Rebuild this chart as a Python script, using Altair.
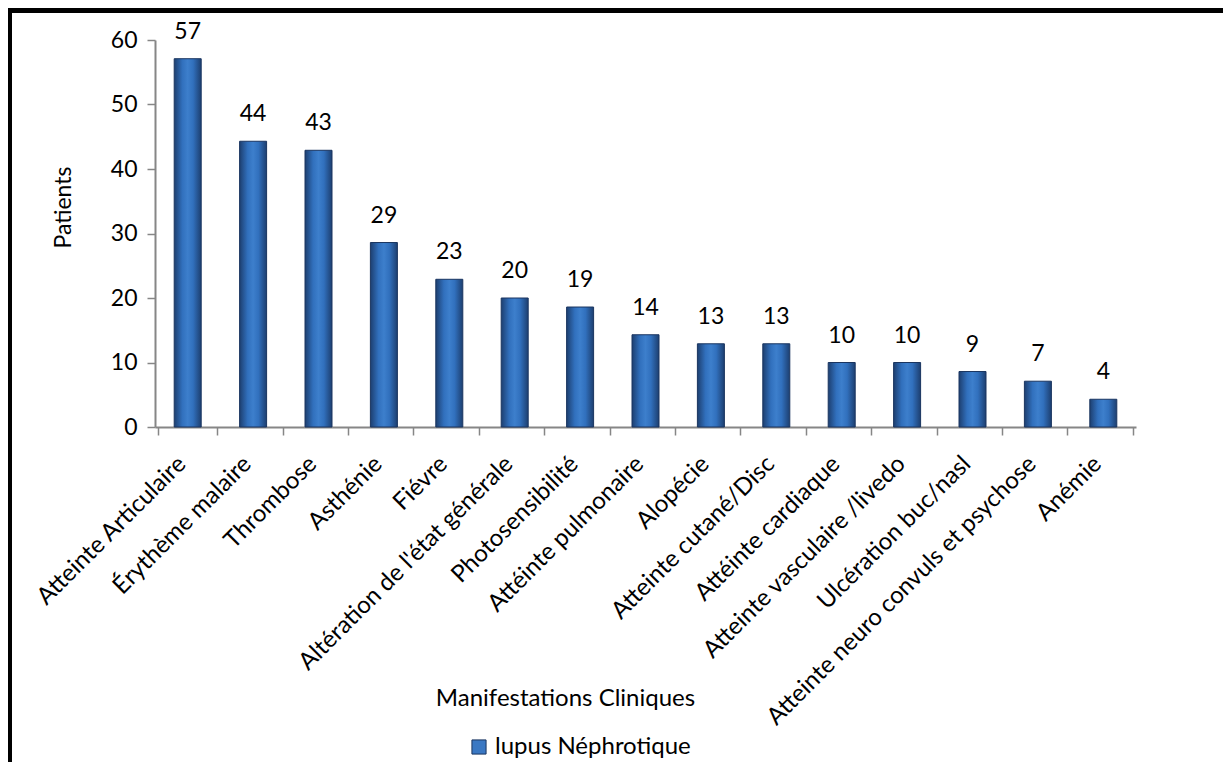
import altair as alt
import pandas as pd

categories = [
    "Atteinte Articulaire", "Érythème malaire", "Thrombose", "Asthénie", "Fiévre",
    "Altération de l'état générale", "Photosensibilité", "Attéinte pulmonaire",
    "Alopécie", "Atteinte cutané/Disc", "Attéinte cardiaque", "Atteinte vasculaire /livedo",
    "Ulcération buc/nasl", "Atteinte neuro convuls et psychose", "Anémie",
]
values = [57.1, 44.3, 42.9, 28.6, 22.9, 20.0, 18.6, 14.3, 12.9, 12.9, 10.0, 10.0, 8.6, 7.1, 4.3]
series = "lupus Néphrotique"

df = pd.DataFrame({"cat": categories, "val": values, "series": [series] * len(categories)})

FONT = "Lato"
GRAY = "#868686"

grad = alt.Gradient(
    gradient="linear",
    stops=[
        alt.GradientStop(color="#1d3f70", offset=0),
        alt.GradientStop(color="#3170bd", offset=0.3),
        alt.GradientStop(color="#3d7fcc", offset=0.5),
        alt.GradientStop(color="#3170bd", offset=0.7),
        alt.GradientStop(color="#1d3f70", offset=1),
    ],
    x1=0, x2=1, y1=0, y2=0,
)

x_enc = alt.X(
    "cat:N", sort=None, title="Manifestations Cliniques",
    axis=alt.Axis(
        labelAngle=-45, labelAlign="right", labelBaseline="middle",
        labelFontSize=24, labelFont=FONT, labelColor="black", labelPadding=25,
        labelOffset=-6,
        tickBand="extent", tickSize=8, tickColor=GRAY, tickWidth=1.5,
        domainColor=GRAY, domainWidth=2,
        titleFont=FONT, titleFontSize=24, titleFontWeight="normal", titleColor="black",
        titleX=410, titleY=271, titleBaseline="middle", titleAlign="center",
        labelOverlap=False, labelLimit=500,
    ),
)
y_enc = alt.Y(
    "val:Q", title="Patients",
    scale=alt.Scale(domain=[0, 60], nice=False),
    axis=alt.Axis(
        values=[0, 10, 20, 30, 40, 50, 60], grid=False,
        labelFontSize=23, labelFont=FONT, labelColor="black", labelPadding=10,
        tickSize=8, tickColor=GRAY, tickWidth=1.5, domainColor=GRAY, domainWidth=2,
        titleFont=FONT, titleFontSize=23, titleFontWeight="normal", titleColor="black",
        titleAngle=-90, titleX=-92, titleY=167, titleAlign="center", titleBaseline="middle",
    ),
)

bars = alt.Chart(df).mark_bar(size=27, fill=grad, stroke="#1a3560", strokeWidth=1).encode(
    x=x_enc,
    y=y_enc,
    color=alt.Color(
        "series:N",
        scale=alt.Scale(range=["#3a78c3"]),
        legend=alt.Legend(
            orient="none", legendX=312, legendY=695, title=None,
            symbolType="square", symbolSize=200, symbolStrokeColor="#1a3560",
            symbolStrokeWidth=1, labelFont=FONT, labelFontSize=24, labelColor="black",
            labelLimit=400,
        ),
    ),
)

labels = alt.Chart(df).mark_text(
    dy=-20, baseline="alphabetic", fontSize=23, font=FONT, color="black"
).encode(
    x=alt.X("cat:N", sort=None),
    y="val:Q",
    text=alt.Text("val:Q", format=".0f"),
)

frame_top = alt.Chart(df).mark_rule(color="black", strokeWidth=4).encode(
    x=alt.value(-147), x2=alt.value(1100), y=alt.value(-29.5)
)
frame_left = alt.Chart(df).mark_rule(color="black", strokeWidth=4).encode(
    x=alt.value(-145), y=alt.value(-31), y2=alt.value(770)
)

chart = alt.layer(bars, labels, frame_top, frame_left).properties(
    width=981, height=387,
    autosize=alt.AutoSizeParams(type="none"),
    padding={"left": 147, "top": 32, "right": 87, "bottom": 335},
    background="white",
).configure_view(stroke=None)

chart.save("out.html", embed_options={"renderer": "svg", "actions": False})
